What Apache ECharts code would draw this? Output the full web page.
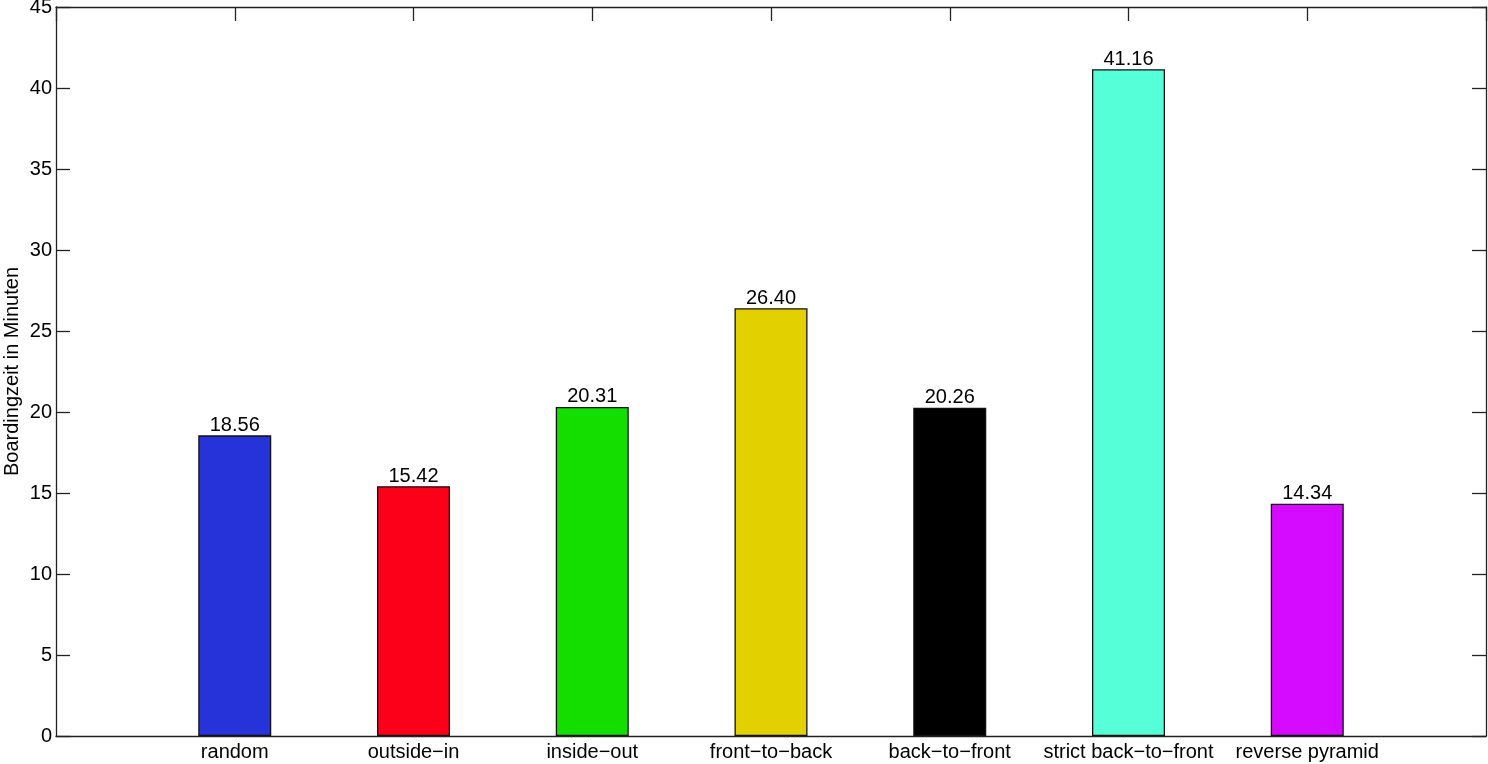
<!DOCTYPE html>
<html>
<head>
<meta charset="utf-8">
<script src="https://cdn.jsdelivr.net/npm/echarts@6/dist/echarts.min.js"></script>
<style>
  html, body { margin: 0; padding: 0; background: #fff; }
  #chart { width: 1488px; height: 764px; }
</style>
</head>
<body>
<div id="chart"></div>
<script>
const categories = ['random', 'outside\u2212in', 'inside\u2212out', 'front\u2212to\u2212back', 'back\u2212to\u2212front', 'strict back\u2212to\u2212front', 'reverse pyramid'];
const boardingTimes = [18.56, 15.42, 20.31, 26.40, 20.26, 41.16, 14.34];
const barColors = ['#2633d9', '#fc0019', '#14dd00', '#e2d000', '#000000', '#55ffd8', '#d50bff'];

const font = 'Liberation Sans, Arial, Helvetica, sans-serif';
const lineStyle = { color: '#222', width: 1.3 };

const chart = echarts.init(document.getElementById('chart'));

// box axes: bottom/left carry labels, top/right only mirror the ticks
function xAxisFor(pos, labels) {
    return {
        type: 'value',
        min: 0,
        max: categories.length + 1,
        interval: 1,
        position: pos,
        splitLine: { show: false },
        axisLine: { show: true, onZero: false, lineStyle },
        axisTick: { show: true, inside: true, length: 14, lineStyle },
        axisLabel: labels ? {
            show: true,
            margin: 6,
            color: '#000',
            fontSize: 20,
            fontFamily: font,
            showMinLabel: false,
            showMaxLabel: false,
            formatter: (v) => categories[v - 1] || ''
        } : { show: false }
    };
}

function yAxisFor(pos, labels) {
    const ax = {
        type: 'value',
        min: 0,
        max: 45,
        interval: 5,
        position: pos,
        splitLine: { show: false },
        axisLine: { show: true, onZero: false, lineStyle },
        axisTick: { show: true, inside: true, length: 14, lineStyle },
        axisLabel: labels ? { margin: 4, color: '#000', fontSize: 20, fontFamily: font } : { show: false }
    };
    if (labels) {
        ax.name = 'Boardingzeit in Minuten';
        ax.nameLocation = 'middle';
        ax.nameGap = 34;
        ax.nameMoveOverlap = false;
        ax.nameTextStyle = { color: '#000', fontSize: 20, fontFamily: font };
    }
    return ax;
}

const option = {
    animation: false,
    backgroundColor: '#fff',
    grid: { left: 56, right: 2, top: 7, bottom: 28, containLabel: false, outerBoundsMode: 'none' },
    xAxis: [xAxisFor('bottom', true), xAxisFor('top', false)],
    yAxis: [yAxisFor('left', true), yAxisFor('right', false)],
    series: [
        {
            type: 'bar',
            xAxisIndex: 0,
            yAxisIndex: 0,
            barWidth: 73,
            data: boardingTimes.map((v, i) => ({
                value: [i + 1, v],
                itemStyle: { color: barColors[i] }
            })),
            itemStyle: { borderColor: '#111', borderWidth: 1.3 },
            label: {
                show: true,
                position: 'top',
                distance: 0,
                color: '#000',
                fontSize: 20,
                fontFamily: font,
                formatter: (p) => p.value[1].toFixed(2)
            }
        }
    ]
};

chart.setOption(option);
</script>
</body>
</html>
